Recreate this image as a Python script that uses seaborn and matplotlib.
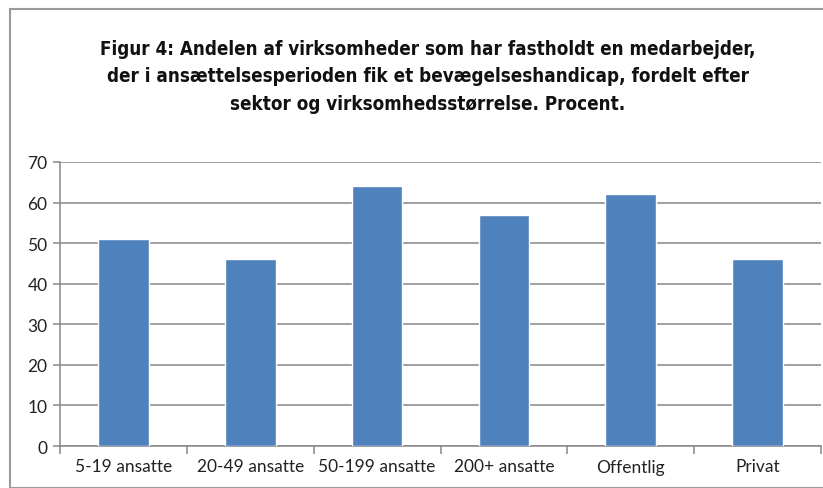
import matplotlib
matplotlib.use("Agg")
import matplotlib.pyplot as plt
import seaborn as sns
import pandas as pd
import numpy as np
from matplotlib.patches import Rectangle
from matplotlib.ticker import FixedLocator

categories = ["5-19 ansatte", "20-49 ansatte", "50-199 ansatte", "200+ ansatte", "Offentlig", "Privat"]
values = [51, 46, 64, 57, 62, 46]
yticks = [0, 10, 20, 30, 40, 50, 60, 70]
title = ("Figur 4: Andelen af virksomheder som har fastholdt en medarbejder,\n"
         "der i ansættelsesperioden fik et bevægelseshandicap, fordelt efter\n"
         "sektor og virksomhedsstørrelse. Procent.")

sns.set_theme(style="white")
plt.rcParams['font.family'] = ['Lato', 'DejaVu Sans']

df = pd.DataFrame({"cat": categories, "val": values})

fig = plt.figure(figsize=(8.23, 4.89), dpi=100)
ax = fig.add_axes([60/823, 1-447/489, (821-60)/823, (447-163)/489])

sns.barplot(data=df, x="cat", y="val", color="#4F81BD", width=0.40, ax=ax,
            saturation=1, zorder=3)

ax.set_ylim(0, 70)
ax.set_xlim(-0.5, len(categories)-0.5)
ax.set_yticks(yticks)
ax.yaxis.grid(True, color="#878787", linewidth=1.1, zorder=0)
ax.set_axisbelow(True)
ax.set_xlabel("")
ax.set_ylabel("")
for s in ["top", "right"]:
    ax.spines[s].set_visible(False)
for s in ["left", "bottom"]:
    ax.spines[s].set_color("#878787")
    ax.spines[s].set_linewidth(1.1)

ax.tick_params(axis="y", which="major", length=5, width=1.1, color="#878787",
               labelsize=12.5, labelcolor="#222222", pad=4, left=True)
ax.tick_params(axis="x", which="major", length=0, labelsize=12.5, labelcolor="#222222", pad=9)
ax.xaxis.set_minor_locator(FixedLocator(np.arange(-0.5, len(categories), 1.0)))
ax.tick_params(axis="x", which="minor", length=6, width=1.1, color="#878787", bottom=True)

fig.text(428/823, 1-77/489, title, ha="center", va="center", fontsize=13.5,
         fontweight="bold", family="DejaVu Sans", fontstretch="condensed",
         linespacing=1.58, color="#111111")

fig.patches.append(Rectangle((10/823, 0), 2, 1-10/489, transform=fig.transFigure,
                             fill=False, edgecolor="#9a9a9a", linewidth=1.5))

fig.savefig("out.png", dpi=100, facecolor="white")
